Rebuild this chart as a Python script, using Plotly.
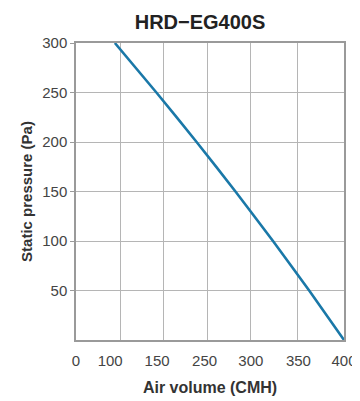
import plotly.graph_objects as go

# Data
air_volume = [58, 120, 180, 238, 294, 348, 400]
static_pressure = [300, 250, 200, 150, 100, 50, 0]

x_tick_pos = [0, 51, 121, 192, 261, 332, 400]
x_tick_text = ["0", "100", "150", "250", "300", "350", "400"]
x_grid_pos = [66.6, 131, 196, 261, 331]
y_tick_vals = [50, 100, 150, 200, 250, 300]
y_tick_text = ["50", "100", "150", "200", "250", "300"]

FONT = "Liberation Sans, Arial, sans-serif"
GRID = "#b5b5b5"
AXIS = "#9a9a9a"

fig = go.Figure()
fig.add_trace(go.Scatter(
    x=air_volume, y=static_pressure, mode="lines",
    line=dict(color="#1a78a8", width=2.6, shape="spline", smoothing=0.6),
    hoverinfo="skip", showlegend=False,
))

fig.update_layout(
    width=360, height=401,
    margin=dict(l=68, r=23.5, t=35, b=69),
    paper_bgcolor="white", plot_bgcolor="white",
    font=dict(family=FONT, color="#444444"),
    title=dict(text="<b>HRD\u2212EG400S</b>", x=192/360, xanchor="center",
               y=1 - 14/401, yanchor="middle",
               font=dict(size=20, color="#222222", family=FONT)),
    xaxis=dict(
        range=[0, 400], tickmode="array", tickvals=x_tick_pos, ticktext=x_tick_text,
        showgrid=False, zeroline=False, ticks="", ticklabelstandoff=6,
        tickfont=dict(size=15, color="#444444"),
        showline=True, linecolor=AXIS, linewidth=1.5, mirror=True,
        minor=dict(tickmode="array", tickvals=x_grid_pos, showgrid=True,
                   gridcolor=GRID, gridwidth=1.3, ticks=""),
        title=dict(text="<b>Air volume (CMH)</b>", standoff=14,
                   font=dict(size=16, color="#333333", family=FONT)),
        automargin=False, fixedrange=True,
    ),
    yaxis=dict(
        range=[0, 300], tickmode="array", tickvals=y_tick_vals, ticktext=y_tick_text,
        showgrid=True, gridcolor=GRID, gridwidth=1.3, zeroline=False,
        ticks="outside", ticklen=4, tickcolor=AXIS,
        tickfont=dict(size=15, color="#444444"),
        showline=True, linecolor=AXIS, linewidth=1.5, mirror=True,
        title=dict(text="<b>Static pressure (Pa)</b>", standoff=6,
                   font=dict(size=15, color="#333333", family=FONT)),
        automargin=False, fixedrange=True,
    ),
)

fig.write_html("out.html")
